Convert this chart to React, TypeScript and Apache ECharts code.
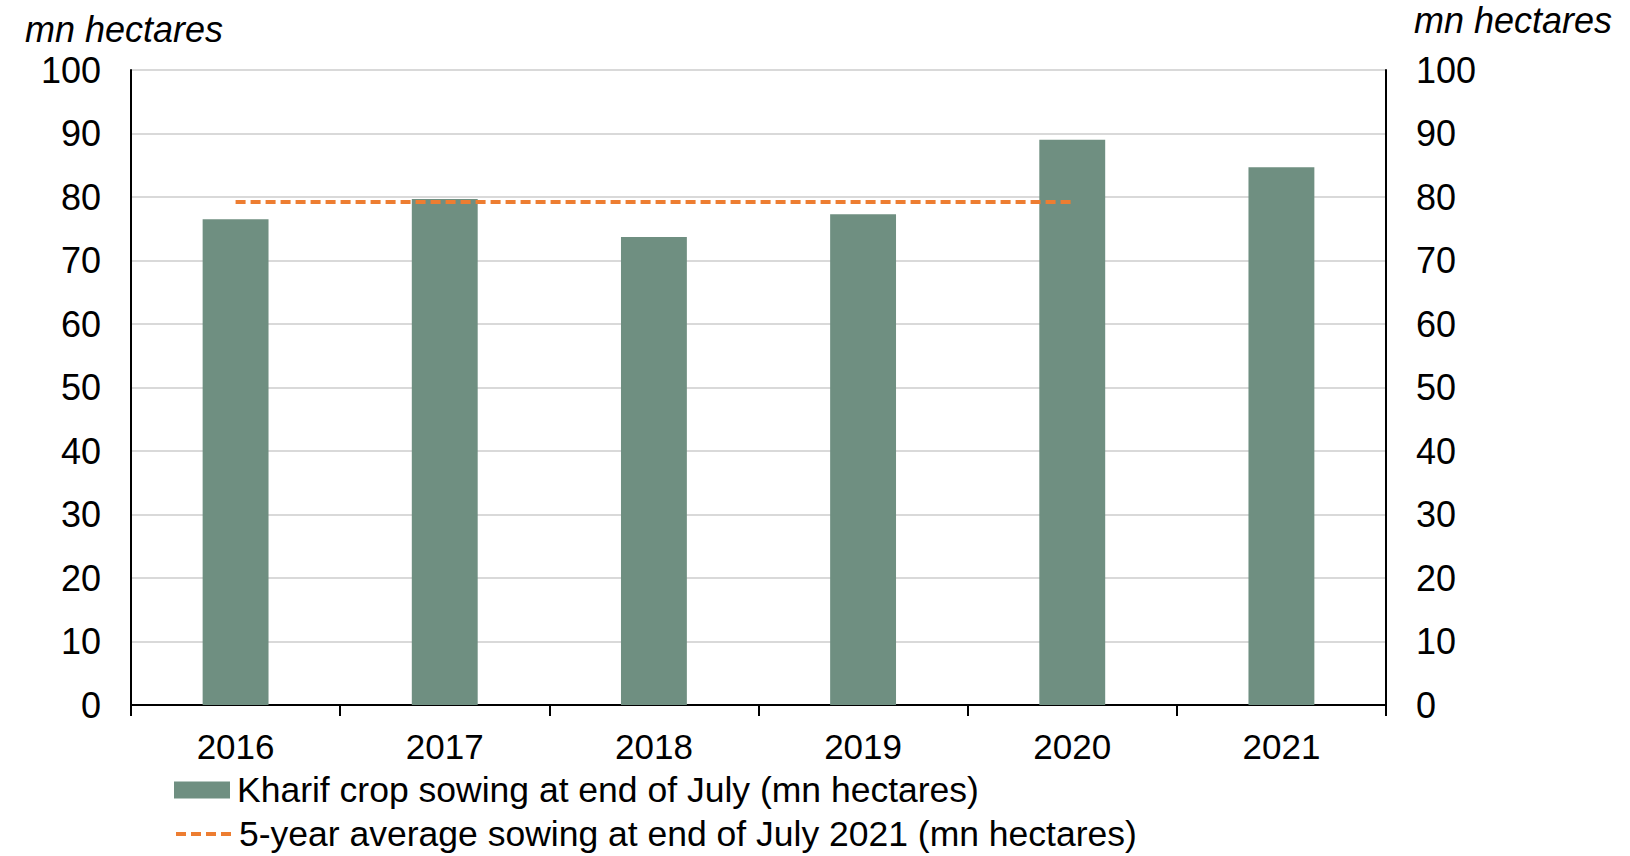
import React, { useEffect, useRef } from "react";
import * as echarts from "echarts";

const categories = ["2016", "2017", "2018", "2019", "2020", "2021"];
const sowingValues = [76.5, 79.7, 73.7, 77.3, 89.0, 84.7];
const avgValues: (number | null)[] = [79.2, 79.2, 79.2, 79.2, 79.2, null];
const barName = "Kharif crop sowing at end of July (mn hectares)";
const lineName = "5-year average sowing at end of July 2021 (mn hectares)";
const unitLabel = "mn hectares";

const FONT = "'Liberation Sans', Arial, sans-serif";

export default function App() {
  const ref = useRef<HTMLDivElement>(null);
  useEffect(() => {
    if (!ref.current) return;
    const chart = echarts.init(ref.current, undefined, { renderer: "svg" });
    const yAxisBase = {
      type: "value",
      min: 0,
      max: 100,
      interval: 10,
      axisLine: { show: true, lineStyle: { color: "#000", width: 2 } },
      axisTick: { show: false },
      axisLabel: { color: "#000", fontSize: 36, fontFamily: FONT, margin: 30 },
    };
    const legendBase = {
      orient: "horizontal",
      left: 174,
      padding: 0,
      itemWidth: 56,
      itemHeight: 17,
      textStyle: { fontSize: 35.5, fontFamily: FONT, color: "#000", padding: [0, 0, 0, 2] },
    };
    chart.setOption({
      animation: false,
      backgroundColor: "#fff",
      textStyle: { fontFamily: FONT },
      grid: { left: 131, right: 244, top: 70, bottom: 151 },
      graphic: [
        {
          type: "text",
          left: 25,
          top: 11,
          style: { text: unitLabel, fontSize: 36, fontStyle: "italic", fontFamily: FONT, fill: "#000" },
        },
        {
          type: "text",
          left: 1414,
          top: 2,
          style: { text: unitLabel, fontSize: 36, fontStyle: "italic", fontFamily: FONT, fill: "#000" },
        },
      ],
      legend: [
        {
          ...legendBase,
          top: 772,
          data: [{ name: barName, icon: "rect" }],
        },
        {
          ...legendBase,
          top: 816,
          lineStyle: { width: 4, type: [10, 5], color: "#ed7d31" },
          data: [{ name: lineName, itemStyle: { color: "rgba(0,0,0,0)", borderWidth: 0 } }],
        },
      ],
      xAxis: {
        type: "category",
        data: categories,
        boundaryGap: true,
        axisLine: { show: true, lineStyle: { color: "#000", width: 2 } },
        axisTick: { show: true, length: 11, alignWithLabel: false, lineStyle: { color: "#000", width: 2 } },
        axisLabel: { color: "#000", fontSize: 35, fontFamily: FONT, margin: 24 },
      },
      yAxis: [
        {
          ...yAxisBase,
          position: "left",
          splitLine: { show: true, lineStyle: { color: "#d9d9d9", width: 2 } },
        },
        {
          ...yAxisBase,
          position: "right",
          splitLine: { show: false },
        },
      ],
      series: [
        {
          name: barName,
          type: "bar",
          data: sowingValues,
          barWidth: "31.5%",
          itemStyle: { color: "#6f8f81" },
        },
        {
          name: lineName,
          type: "line",
          data: avgValues,
          symbol: "none",
          showSymbol: false,
          lineStyle: { color: "#ed7d31", width: 4, type: [10, 5] },
          itemStyle: { color: "#ed7d31" },
        },
      ],
    });
    return () => chart.dispose();
  }, []);
  return (
    <div
      ref={ref}
      style={{ position: "fixed", left: 0, top: 0, width: 1630, height: 856 }}
    />
  );
}
